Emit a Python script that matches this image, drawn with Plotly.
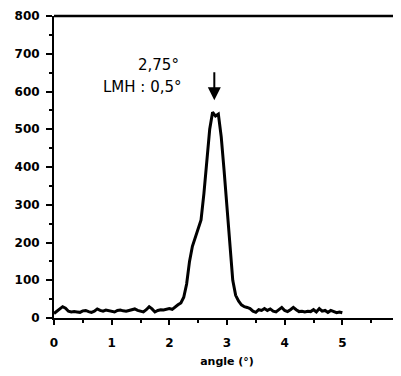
import plotly.graph_objects as go

angle = [round(i * 0.05, 2) for i in range(101)]
intensity = [
    12, 18, 25, 30, 26, 18, 16, 17, 16, 15,
    19, 20, 17, 15, 18, 24, 20, 18, 21, 20,
    17, 16, 20, 21, 19, 18, 20, 23, 24, 20,
    18, 16, 22, 30, 24, 16, 20, 22, 21, 24,
    25, 23, 30, 35, 40, 55, 90, 150, 190, 215,
    235, 260, 330, 420, 500, 545, 535, 540, 480, 390,
    290, 190, 100, 60, 45, 35, 30, 28, 25, 18,
    15, 22, 20, 25, 20, 24, 18, 16, 22, 28,
    20, 17, 22, 28, 22, 17, 18, 16, 18, 17,
    22, 16, 25, 18, 20, 15, 20, 16, 14, 16,
    14,
]
x_ticks = [0, 1, 2, 3, 4, 5, 6]
y_ticks = [0, 100, 200, 300, 400, 500, 600, 700, 800]
peak_label = "2,75°"
fwhm_label = "LMH : 0,5°"
peak_pos = 2.78

FONT = "DejaVu Sans, Liberation Sans, Arial, sans-serif"

fig = go.Figure()
fig.add_trace(go.Scatter(x=angle, y=intensity, mode="lines",
                         line=dict(color="black", width=3), showlegend=False))

tickfont = dict(family=FONT, size=12, color="black")

fig.update_layout(
    width=401, height=376,
    margin=dict(l=46, r=9, t=8, b=66, autoexpand=False),
    paper_bgcolor="white", plot_bgcolor="white",
    xaxis=dict(range=[0, 6], tickvals=x_ticks, ticktext=[f"<b>{v}</b>" for v in x_ticks],
               automargin=False, showgrid=False, zeroline=False,
               showline=True, linecolor="black", linewidth=2, mirror=False,
               ticks="outside", ticklen=5, tickwidth=1.5, tickcolor="black",
               minor=dict(dtick=0.5, ticks="outside", ticklen=3, tickcolor="black"),
               tickfont=tickfont, ticklabelstandoff=8,
               title=dict(text="<b>angle (°)</b>", font=dict(family=FONT, size=11, color="black"),
                          standoff=8)),
    yaxis=dict(range=[0, 800], tickvals=y_ticks, ticktext=[f"<b>{v}</b>" for v in y_ticks],
               automargin=False, showgrid=False, zeroline=False,
               showline=True, linecolor="black", linewidth=2, mirror=False,
               ticks="outside", ticklen=6, tickwidth=1.5, tickcolor="black",
               minor=dict(dtick=50, ticks="outside", ticklen=3, tickcolor="black"),
               tickfont=tickfont, ticklabelstandoff=4),
    shapes=[
        dict(type="line", xref="paper", yref="paper", x0=1, x1=1, y0=0, y1=1,
             line=dict(color="#888888", width=1)),
        dict(type="line", xref="paper", yref="paper", x0=0, x1=1, y0=1, y1=1,
             line=dict(color="black", width=2.5)),
    ],
    annotations=[
        dict(x=1.82, y=670, xref="x", yref="y", text=peak_label, showarrow=False,
             font=dict(family=FONT, size=15, color="black")),
        dict(x=1.54, y=612, xref="x", yref="y", text=fwhm_label, showarrow=False,
             font=dict(family=FONT, size=15, color="black")),
        dict(x=peak_pos, y=577, ax=peak_pos, ay=655, xref="x", yref="y", axref="x", ayref="y",
             text="", showarrow=True, arrowhead=2, arrowsize=1.3, arrowwidth=2, arrowcolor="black"),
    ],
)

fig.write_html("out.html")
